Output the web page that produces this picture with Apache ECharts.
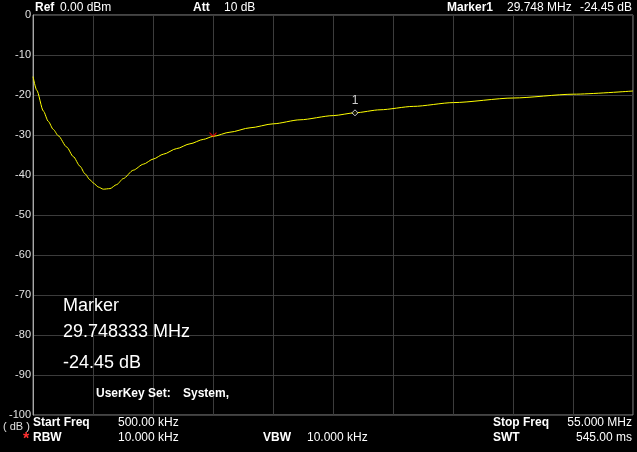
<!DOCTYPE html>
<html><head><meta charset="utf-8">
<script src="https://cdn.jsdelivr.net/npm/echarts@6/dist/echarts.min.js"></script>
<style>html,body{margin:0;padding:0;background:#000;}#c{width:637px;height:452px;}</style>
</head><body><div id="c"></div>
<script>
// Trace: frequency (MHz) and level (dB)
var freqMHz = [0.5, 0.84, 1.44, 1.89, 2.34, 2.80, 3.56, 4.16, 4.77, 5.22, 5.68, 5.98, 6.43, 6.89, 7.49, 8.10, 8.70, 9.61, 10.52, 11.43, 12.34, 13.55, 14.76, 15.97, 16.85, 18.39, 20.21, 22.33, 24.75, 27.78, 29.748, 32.02, 35.04, 38.68, 44.13, 49.58, 55.0];
var levelDb = [-15.4, -18.8, -24.0, -26.6, -28.6, -30.2, -33.0, -35.4, -37.8, -39.7, -41.2, -42.0, -43.0, -43.55, -43.4, -42.4, -40.9, -38.8, -37.3, -36.0, -34.8, -33.4, -32.2, -31.1, -30.35, -29.3, -28.2, -27.2, -26.2, -25.15, -24.45, -23.7, -22.85, -21.9, -20.75, -19.8, -19.0];
var marker1 = [29.748, -24.45];
var refMarker = [16.85, -30.35];
var yTicks = [0, -10, -20, -30, -40, -50, -60, -70, -80, -90, -100];
var startFreq = 0.5, stopFreq = 55.0;

var chart = echarts.init(document.getElementById('c'), null, {renderer: 'canvas'});
var F = 'Liberation Sans, Arial, sans-serif';
function txt(x, y, s, opt) {
  opt = opt || {};
  return {type: 'text', x: x, y: y, z: 100, style: {text: s, fill: opt.fill || '#ffffff',
    font: (opt.bold ? 'bold ' : '') + (opt.size || 12) + 'px ' + F,
    textAlign: opt.align || 'left', textVerticalAlign: 'middle'}};
}
var option = {
  backgroundColor: '#000000',
  animation: false,
  grid: {left: 33, top: 15, width: 600, height: 400, show: true, borderColor: '#8a8a8a', borderWidth: 1},
  xAxis: [
    {type: 'value', min: startFreq, max: stopFreq, show: false, splitLine: {show: false}},
    {type: 'value', min: 0, max: 10, interval: 1, position: 'bottom',
      axisLine: {show: false}, axisTick: {show: false}, axisLabel: {show: false},
      splitLine: {show: true, lineStyle: {color: '#3c3c3c', width: 1}}}
  ],
  yAxis: {type: 'value', min: -100, max: 0, interval: 10,
    axisLine: {show: true, lineStyle: {color: '#a8a8a8'}}, axisTick: {show: false},
    axisLabel: {color: '#e0e0e0', fontSize: 11, fontFamily: F, margin: 2,
      formatter: function (v) { return yTicks.indexOf(v) >= 0 ? String(v) : ''; }},
    splitLine: {show: true, lineStyle: {color: '#3c3c3c', width: 1}}},
  series: [
    {type: 'line', xAxisIndex: 0, data: freqMHz.map(function (f, i) { return [f, levelDb[i]]; }),
      showSymbol: false, smooth: 0.25, smoothMonotone: 'x', lineStyle: {color: '#ffff00', width: 1}, z: 5},
    {type: 'scatter', xAxisIndex: 0, data: [marker1], symbol: 'diamond', symbolSize: 6,
      itemStyle: {color: '#000', borderColor: '#ffffff', borderWidth: 1}, z: 6,
      label: {show: true, position: 'top', distance: 3, formatter: '1', color: '#fff', fontSize: 12, fontFamily: F}},
    {type: 'scatter', xAxisIndex: 0, data: [refMarker], symbol: 'path://M0,0 L4,4 L8,0 L8,2 L4,6 L0,2 Z', symbolSize: [7, 5],
      symbolOffset: [0, -2], itemStyle: {color: '#ff0000'}, z: 6}
  ],
  graphic: [
    txt(35, 8, 'Ref', {bold: true}), txt(60, 8, '0.00 dBm'),
    txt(193, 8, 'Att', {bold: true}), txt(224, 8, '10 dB'),
    txt(447, 8, 'Marker1', {bold: true}), txt(507, 8, '29.748 MHz'), txt(632, 8, '-24.45 dB', {align: 'right'}),
    txt(63, 306, 'Marker', {size: 18}), txt(63, 332, '29.748333 MHz', {size: 18}), txt(63, 363, '-24.45 dB', {size: 18}),
    txt(96, 394, 'UserKey Set:', {bold: true}), txt(183, 394, 'System,', {bold: true}),
    txt(3, 427, '( dB )', {size: 11, fill: '#e0e0e0'}),
    txt(33, 423, 'Start Freq', {bold: true}), txt(118, 423, '500.00 kHz'),
    txt(23, 440, '*', {bold: true, size: 16, fill: '#ff3030'}),
    txt(33, 438, 'RBW', {bold: true}), txt(118, 438, '10.000 kHz'),
    txt(263, 438, 'VBW', {bold: true}), txt(307, 438, '10.000 kHz'),
    txt(493, 423, 'Stop Freq', {bold: true}), txt(632, 423, '55.000 MHz', {align: 'right'}),
    txt(493, 438, 'SWT', {bold: true}), txt(632, 438, '545.00 ms', {align: 'right'})
  ]
};
chart.setOption(option);
</script></body></html>
